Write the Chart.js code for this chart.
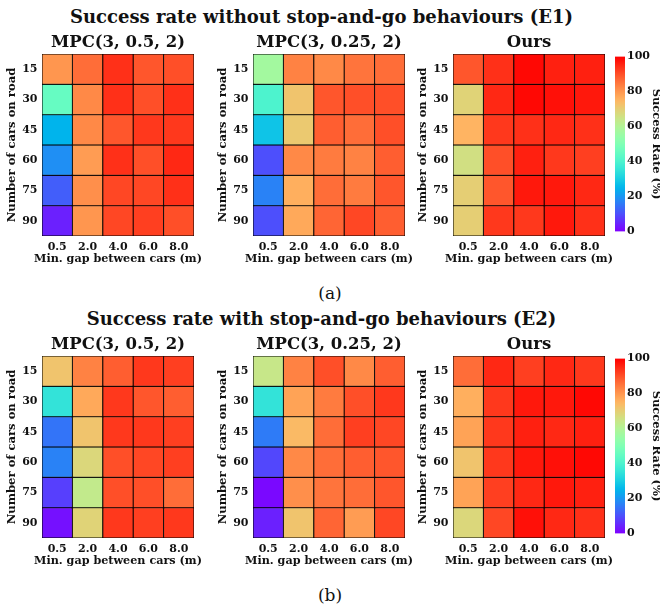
<!DOCTYPE html>
<html>
<head>
<meta charset="utf-8">
<script src="https://cdn.jsdelivr.net/npm/chart.js@4.4.1/dist/chart.umd.min.js"></script>
<style>
  html, body { margin: 0; padding: 0; background: #fff; }
  body { width: 660px; height: 608px; position: relative; overflow: hidden; font-family: 'DejaVu Serif', serif; color: #111; }
  .main { position: absolute; left: 0; width: 643px; text-align: center; font-weight: bold; font-size: 18px; line-height: 18px; white-space: nowrap; }
  .cap { position: absolute; left: 0; width: 660px; text-align: center; font-size: 17px; line-height: 17px; }
  .box { position: absolute; }
</style>
</head>
<body>
<div class="main" style="top:7.6px">Success rate without stop-and-go behaviours (E1)</div>
<div class="cap" style="top:285px">(a)</div>
<div class="main" style="top:309.6px">Success rate with stop-and-go behaviours (E2)</div>
<div class="cap" style="top:587px">(b)</div>

<script>
// ---- Data ----
const gapLabels = ['0.5', '2.0', '4.0', '6.0', '8.0'];
const carLabels = ['15', '30', '45', '60', '75', '90'];
const subTitles = ['MPC(3, 0.5, 2)', 'MPC(3, 0.25, 2)', 'Ours'];
const xTitle = 'Min. gap between cars (m)';
const yTitle = 'Number of cars on road';
const cbarTitle = 'Success Rate (%)';
const cbarTicks = [0, 20, 40, 60, 80, 100];

// E1: without stop-and-go (rows: cars 15..90, cols: gap 0.5..8.0)
const e1Mpc05 = [
  [80, 86, 94, 89, 90],
  [45, 82, 94, 90, 94],
  [25, 82, 89, 93, 93],
  [19, 79, 94, 90, 95],
  [12, 81, 91, 91, 94],
  [4, 80, 91, 92, 90]
];
const e1Mpc025 = [
  [57, 83, 82, 85, 86],
  [40, 72, 89, 90, 90],
  [28, 71, 88, 86, 90],
  [10, 82, 84, 83, 88],
  [17, 76, 86, 84, 89],
  [10, 77, 87, 91, 88]
];
const e1Ours = [
  [89, 94, 99, 96, 96],
  [69, 95, 99, 98, 97],
  [75, 93, 94, 95, 94],
  [66, 90, 96, 93, 92],
  [70, 89, 97, 97, 95],
  [70, 93, 93, 97, 94]
];
// E2: with stop-and-go
const e2Mpc05 = [
  [72, 83, 88, 93, 92],
  [35, 77, 93, 89, 88],
  [15, 72, 93, 93, 92],
  [17, 68, 90, 91, 92],
  [8, 63, 90, 90, 86],
  [2, 69, 93, 92, 93]
];
const e2Mpc025 = [
  [64, 83, 90, 82, 88],
  [35, 78, 84, 90, 93],
  [16, 74, 86, 92, 91],
  [9, 82, 86, 88, 89],
  [1, 81, 85, 86, 89],
  [4, 72, 87, 79, 91]
];
const e2Ours = [
  [86, 95, 92, 95, 93],
  [76, 93, 97, 97, 99],
  [78, 93, 96, 95, 96],
  [72, 93, 97, 98, 99],
  [78, 92, 95, 97, 96],
  [68, 91, 98, 95, 94]
];

// matplotlib "rainbow" colormap
function rainbow(v) {
  const x = Math.max(0, Math.min(1, v / 100));
  const r = Math.min(1, Math.abs(2 * x - 0.5));
  const g = Math.max(0, Math.sin(Math.PI * x));
  const b = Math.max(0, Math.cos(Math.PI * x / 2));
  return 'rgb(' + Math.round(r * 255) + ',' + Math.round(g * 255) + ',' + Math.round(b * 255) + ')';
}

Chart.defaults.font.family = "'DejaVu Serif', serif";
Chart.defaults.font.weight = 'bold';
Chart.defaults.color = '#111';

// x-axis title drawn without Chart.js's maxWidth squeeze (the reference label is wider than the plot)
const xTitlePlugin = {
  id: 'xTitleFree',
  afterDraw(chart) {
    const a = chart.chartArea;
    const ctx = chart.ctx;
    ctx.save();
    ctx.font = "bold 11.2px 'DejaVu Serif', serif";
    ctx.fillStyle = '#111';
    ctx.textAlign = 'center';
    ctx.textBaseline = 'middle';
    ctx.fillText(xTitle, (a.left + a.right) / 2, a.bottom + 23);
    ctx.restore();
  }
};

function addCanvas(left, top, w, h) {
  const d = document.createElement('div');
  d.className = 'box';
  d.style.left = left + 'px';
  d.style.top = top + 'px';
  d.style.width = w + 'px';
  d.style.height = h + 'px';
  const c = document.createElement('canvas');
  c.width = w; c.height = h;
  c.style.width = w + 'px'; c.style.height = h + 'px';
  d.appendChild(c);
  document.body.appendChild(d);
  return c;
}

function heatmap(canvas, title, values) {
  const datasets = values.map((row, i) => ({
    data: row.map(() => [i - 0.5, i + 0.5]),
    backgroundColor: row.map(rainbow),
    borderColor: '#000',
    borderWidth: 0.85,
    borderSkipped: false,
    grouped: false,
    barPercentage: 1,
    categoryPercentage: 1
  }));
  return new Chart(canvas, {
    type: 'bar',
    data: { labels: gapLabels, datasets },
    plugins: [xTitlePlugin],
    options: {
      responsive: false,
      animation: false,
      devicePixelRatio: 1,
      layout: { padding: { right: 26, left: 0, top: 0, bottom: 0 } },
      plugins: {
        legend: { display: false },
        tooltip: { enabled: false },
        title: {
          display: true, text: title, fullSize: false,
          font: { size: 16.5, weight: 'bold', lineHeight: 1 },
          padding: { top: 6.5, bottom: 3 }, color: '#111'
        }
      },
      scales: {
        x: {
          type: 'category',
          grid: { display: false, drawTicks: false, tickLength: 0 },
          border: { display: false },
          ticks: { font: { size: 11, weight: 'bold' }, padding: 4.5, maxRotation: 0, autoSkip: false },
          title: { display: false },
          afterFit: (s) => { s.height = 34; }
        },
        y: {
          type: 'linear', min: -0.5, max: 5.5, reverse: true,
          grid: { display: false, drawTicks: false, tickLength: 0 },
          border: { display: false },
          afterBuildTicks: (s) => { s.ticks = carLabels.map((_, i) => ({ value: i })); },
          ticks: { font: { size: 11, weight: 'bold' }, padding: 4.5, callback: (v) => carLabels[v] },
          title: { display: true, text: yTitle, font: { size: 11.6, weight: 'bold' }, padding: { top: 5, bottom: 0 } },
          afterFit: (s) => { s.width = 42; }
        }
      }
    }
  });
}

function colorbar(canvas) {
  return new Chart(canvas, {
    type: 'bar',
    data: {
      labels: [''],
      datasets: [{
        data: [[cbarTicks[0], cbarTicks[cbarTicks.length - 1]]],
        backgroundColor: (ctx) => {
          const ch = ctx.chart; const a = ch.chartArea;
          if (!a) return 'red';
          const g = ch.ctx.createLinearGradient(0, a.bottom, 0, a.top);
          for (let k = 0; k <= 50; k++) g.addColorStop(k / 50, rainbow(k * 2));
          return g;
        },
        borderWidth: 0,
        barPercentage: 1, categoryPercentage: 1
      }]
    },
    options: {
      responsive: false, animation: false, devicePixelRatio: 1,
      layout: { padding: { left: 10, top: 6, bottom: 4, right: 0 } },
      plugins: { legend: { display: false }, tooltip: { enabled: false } },
      scales: {
        x: { display: false },
        y: {
          position: 'right', min: 0, max: 100,
          grid: { display: false, drawTicks: false, tickLength: 0 },
          border: { display: false },
          afterBuildTicks: (s) => { s.ticks = cbarTicks.map(v => ({ value: v })); },
          ticks: { font: { size: 11, weight: 'bold' }, padding: 2 },
          title: { display: true, text: cbarTitle, font: { size: 11.5, weight: 'bold' }, padding: { top: 0, bottom: 0 } },
          afterFit: (s) => { s.width = 38; }
        }
      }
    }
  });
}

const rowsData = [[e1Mpc05, e1Mpc025, e1Ours], [e2Mpc05, e2Mpc025, e2Ours]];
const plotLefts = [42, 253, 453];
const plotTops = [54, 356];

rowsData.forEach((sets, r) => {
  sets.forEach((vals, c) => {
    const cv = addCanvas(plotLefts[c] - 42, plotTops[r] - 26, 220, 242);
    heatmap(cv, subTitles[c], vals);
  });
  colorbar(addCanvas(605, plotTops[r] - 6, 58, 192));
});
</script>
</body>
</html>
